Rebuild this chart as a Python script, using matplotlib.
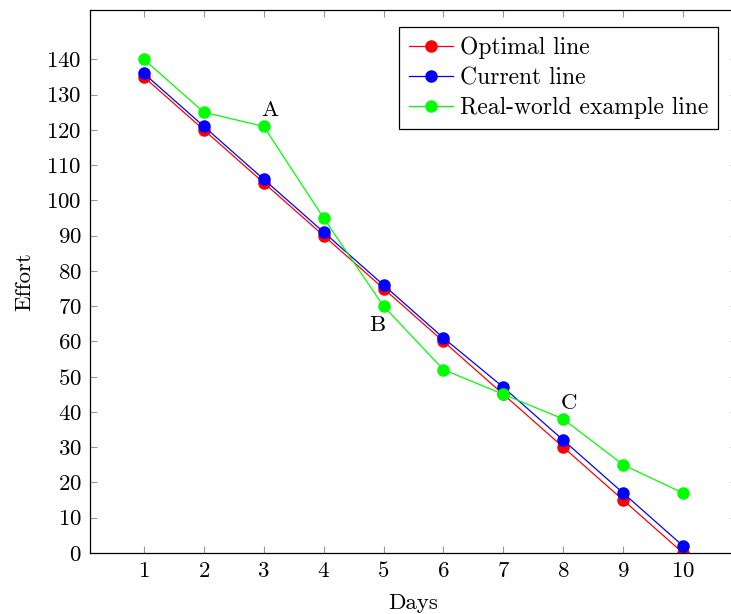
import matplotlib
matplotlib.use("Agg")
import matplotlib.pyplot as plt

plt.rcParams['font.family'] = 'serif'
plt.rcParams['font.serif'] = ['cmr10', 'DejaVu Serif']
plt.rcParams['mathtext.fontset'] = 'cm'
plt.rcParams['axes.formatter.use_mathtext'] = True

days = [1, 2, 3, 4, 5, 6, 7, 8, 9, 10]
optimal = [135, 120, 105, 90, 75, 60, 45, 30, 15, 0]
current = [136, 121, 106, 91, 76, 61, 47, 32, 17, 2]
real_world = [140, 125, 121, 95, 70, 52, 45, 38, 25, 17]
labels = ["Optimal line", "Current line", "Real-world example line"]
annotations = [("A", 3.1, 125.5), ("B", 4.89, 64.5), ("C", 8.1, 42.5)]

FS = 16.5
fig = plt.figure(figsize=(7.31, 6.14), dpi=100)
ax = fig.add_axes([90/731, 1-553/614, 647/731, 543/614])

for ys, c, lab in zip([optimal, current, real_world], ['#ff0000', '#0000ff', '#00ff00'], labels):
    ax.plot(days, ys, color=c, lw=0.9, marker='o', ms=8, label=lab)

for t, x, y in annotations:
    ax.text(x, y, t, fontsize=FS, ha='center', va='center')

ax.set_xlim(0.1, 10.9)
ax.set_ylim(0, 154)
ax.set_xticks(days)
ax.set_yticks(range(0, 141, 10))
ax.tick_params(direction='in', top=True, right=True, length=5, width=0.8, color='#999999',
               labelsize=FS, labelcolor='black', pad=6)
for s in ax.spines.values():
    s.set_linewidth(0.9)
ax.set_xlabel("Days", fontsize=FS, labelpad=9)
ax.set_ylabel("Effort", fontsize=FS, labelpad=9)

leg = ax.legend(loc='upper right', bbox_to_anchor=(718/731, 1-27/614), bbox_transform=fig.transFigure,
                fontsize=17, fancybox=False, edgecolor='black', framealpha=1, borderaxespad=0,
                handlelength=1.86, labelspacing=0.32, handletextpad=0.3, borderpad=0.42)
leg.get_frame().set_linewidth(0.9)

fig.savefig("out.png", dpi=100)
